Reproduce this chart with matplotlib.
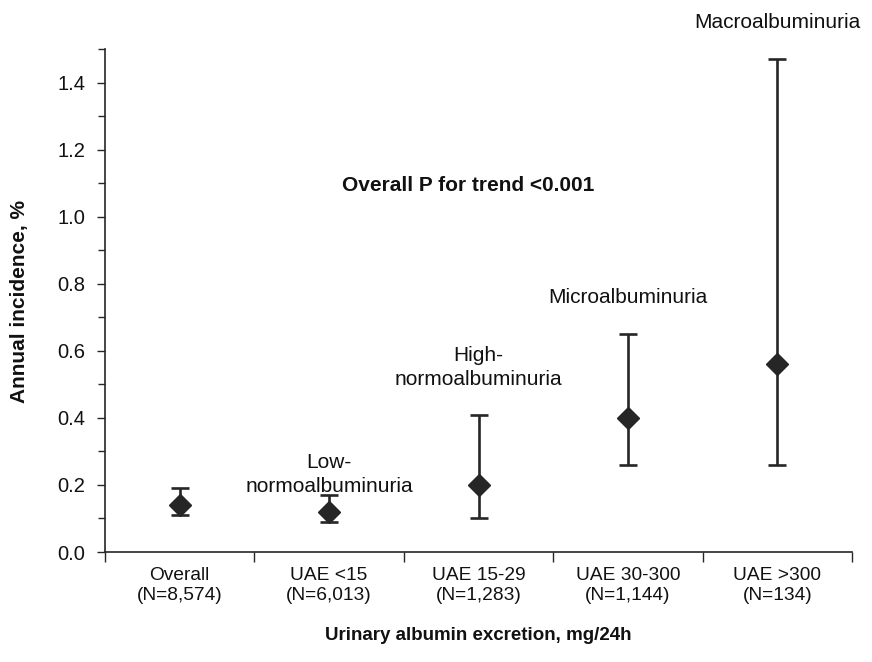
import matplotlib
matplotlib.use("Agg")
import matplotlib.pyplot as plt
from matplotlib.ticker import MultipleLocator, FixedLocator
import numpy as np

plt.rcParams['font.family'] = ['Liberation Sans', 'DejaVu Sans']

# Annual incidence (%) with 95% CI by albuminuria group
categories = ["Overall\n(N=8,574)", "UAE <15\n(N=6,013)", "UAE 15-29\n(N=1,283)",
              "UAE 30-300\n(N=1,144)", "UAE >300\n(N=134)"]
incidence = [0.14, 0.12, 0.20, 0.40, 0.56]
ci_low = [0.11, 0.09, 0.10, 0.26, 0.26]
ci_high = [0.19, 0.17, 0.41, 0.65, 1.47]
group_labels = ["", "Low-\nnormoalbuminuria", "High-\nnormoalbuminuria",
                "Microalbuminuria", "Macroalbuminuria"]
label_y = [None, 0.23, 0.55, 0.76, 1.58]

ink = "#262626"

fig = plt.figure(figsize=(8.72, 6.62), dpi=100)
ax = fig.add_axes([105 / 872, 1 - 552 / 662, (852 - 105) / 872, (552 - 49) / 662])

x = np.arange(len(categories))
inc = np.array(incidence)
yerr = np.vstack([inc - np.array(ci_low), np.array(ci_high) - inc])
ax.errorbar(x, inc, yerr=yerr, fmt='D', color=ink, ecolor=ink, markersize=11.5,
            elinewidth=1.9, capsize=6.5, capthick=1.9, zorder=3)

ax.set_xlim(-0.5, len(categories) - 0.5)
ax.set_ylim(0, 1.5)

ax.yaxis.set_minor_locator(MultipleLocator(0.1))
ax.set_yticks(np.arange(0, 1.41, 0.2))
ax.set_yticklabels([f"{v:.1f}" for v in np.arange(0, 1.41, 0.2)])
ax.tick_params(axis='y', which='major', length=6, width=1, color=ink,
               labelsize=14.5, pad=8, labelcolor="#111111")
ax.tick_params(axis='y', which='minor', length=5, width=1, color=ink)

ax.set_xticks(x)
ax.set_xticklabels(categories, linespacing=1.2)
ax.xaxis.set_minor_locator(FixedLocator(np.arange(-0.5, len(categories), 1.0)))
ax.tick_params(axis='x', which='major', length=0, labelsize=13.8, pad=11,
               labelcolor="#111111")
ax.tick_params(axis='x', which='minor', length=7, width=1, color=ink)

for side in ("top", "right"):
    ax.spines[side].set_visible(False)
for side in ("left", "bottom"):
    ax.spines[side].set_color(ink)
    ax.spines[side].set_linewidth(1.2)

for i, (txt, yy) in enumerate(zip(group_labels, label_y)):
    if txt:
        ax.text(i, yy, txt, ha='center', va='center', fontsize=15,
                color="#111111", linespacing=1.35, clip_on=False)

ax.text(1.93, 1.094, "Overall P for trend <0.001", ha='center', va='center',
        fontsize=15, fontweight='bold', color="#111111")

fig.text(19 / 872, 1 - 301 / 662, "Annual incidence, %", rotation=90,
         ha='center', va='center', fontsize=15, fontweight='bold', color="#111111")
fig.text(478 / 872, 1 - 636 / 662, "Urinary albumin excretion, mg/24h",
         ha='center', va='center', fontsize=13.5, fontweight='bold', color="#111111")

fig.savefig("out.png", dpi=100)
